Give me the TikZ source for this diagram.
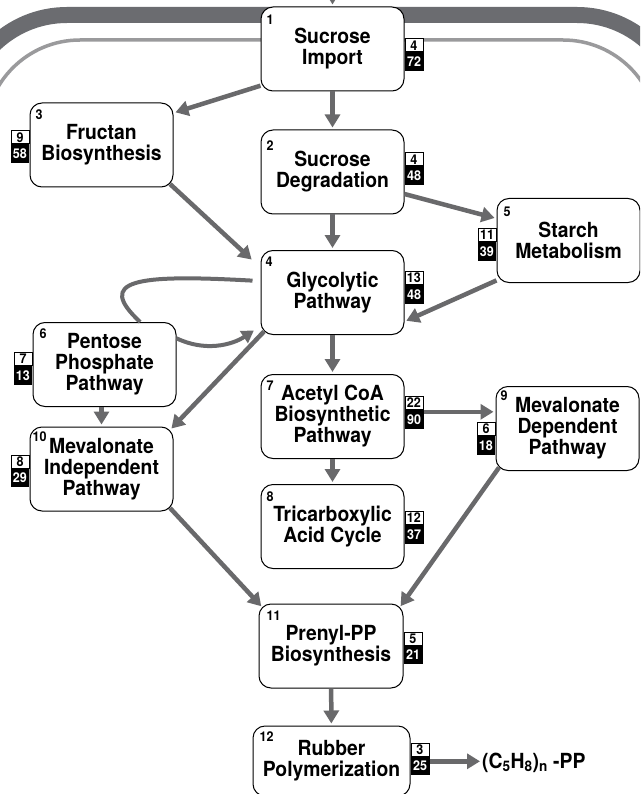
\documentclass[tikz,border=0pt]{standalone}
\usepackage{fontspec}
\setmainfont{TeX Gyre Heros}[FakeStretch=0.93]
\usetikzlibrary{arrows.meta}
\definecolor{bandgray}{HTML}{6B6C70}
\definecolor{linegray}{HTML}{9A9A9C}
\definecolor{flowgray}{HTML}{69696B}

\begin{document}
\begin{tikzpicture}[x=1pt, y=-1pt,
  pbox/.style={draw=black, line width=1pt, fill=white, rounded corners=12pt, minimum width=143pt, minimum height=84pt, inner sep=0pt, align=center, font=\fontsize{20.8}{21}\selectfont\bfseries},
  numlbl/.style={anchor=north west, inner sep=0pt, font=\fontsize{13.5}{13.5}\selectfont\bfseries},
  cntw/.style={draw=black, line width=0.8pt, fill=white, minimum width=18pt, minimum height=13pt, inner sep=0pt, font=\fontsize{13.5}{13.5}\selectfont\bfseries},
  cntb/.style={fill=black, text=white, minimum width=18.8pt, minimum height=18.5pt, inner sep=0pt, font=\fontsize{13.5}{13.5}\selectfont\bfseries},
  flow/.style={line width=4.5pt, draw=flowgray, -{Triangle[length=13pt,width=15pt]}, shorten >=2pt},
  loopline/.style={line width=4pt, draw=flowgray}]

% page and clip
\useasboundingbox (0,0) rectangle (640,794);
\clip (0,0) rectangle (640,794);
\fill[white] (0,0) rectangle (640,794);

% cell membrane
\draw[line width=16pt, draw=bandgray, rounded corners=105pt] (-38,900) -- (-38,15) -- (682,15) -- (682,900);
\draw[line width=3.5pt, draw=linegray, rounded corners=95pt] (-15,900) -- (-15,40) -- (658,40) -- (658,900);

% pathway boxes
\node[pbox] (imp) at (332.5,49) {Sucrose\\Import};
\node[pbox] (deg) at (332.5,172) {Sucrose\\Degradation};
\node[pbox] (fru) at (101.5,145) {Fructan\\Biosynthesis};
\node[pbox] (sta) at (568.5,240.5) {Starch\\Metabolism};
\node[pbox] (gly) at (332.5,292.5) {Glycolytic\\Pathway};
\node[pbox] (pen) at (104.5,364.5) {Pentose\\Phosphate\\Pathway};
\node[pbox] (ace) at (332.5,416.5) {Acetyl CoA\\Biosynthetic\\Pathway};
\node[pbox] (mvd) at (567.5,428.5) {Mevalonate\\Dependent\\Pathway};
\node[pbox] (mvi) at (101.5,469) {Mevalonate\\Independent\\Pathway};
\node[pbox] (tca) at (332.5,526.5) {Tricarboxylic\\Acid Cycle};
\node[pbox, minimum width=144pt] (pre) at (331,646) {Prenyl-PP\\Biosynthesis};
\node[pbox, minimum width=157pt, minimum height=70pt] (rub) at (331.5,761) {Rubber\\Polymerization};

% box numbers
\node[numlbl] (impN) at ([xshift=6pt,yshift=-8pt]imp.north west) {1};
\node[numlbl] (degN) at ([xshift=6pt,yshift=-11pt]deg.north west) {2};
\node[numlbl] (fruN) at ([xshift=6pt,yshift=-7pt]fru.north west) {3};
\node[numlbl] (glyN) at ([xshift=5pt,yshift=-7pt]gly.north west) {4};
\node[numlbl] (staN) at ([xshift=7pt,yshift=-9pt]sta.north west) {5};
\node[numlbl] (penN) at ([xshift=7pt,yshift=-7pt]pen.north west) {6};
\node[numlbl] (aceN) at ([xshift=6pt,yshift=-7pt]ace.north west) {7};
\node[numlbl] (tcaN) at ([xshift=6pt,yshift=-8pt]tca.north west) {8};
\node[numlbl] (mvdN) at ([xshift=5pt,yshift=-5pt]mvd.north west) {9};
\node[numlbl] (mviN) at ([xshift=3pt,yshift=-5pt]mvi.north west) {10};
\node[numlbl] (preN) at ([xshift=8pt,yshift=-7pt]pre.north west) {11};
\node[numlbl] (rubN) at ([xshift=7pt,yshift=-6pt]rub.north west) {12};

% gene counts, right side
\node[cntw, anchor=north west] (impW) at ([yshift=-32pt]imp.north east) {4};
\node[cntb, anchor=north west] (impB) at (impW.south west) {72};
\node[cntw, anchor=north west] (degW) at ([yshift=-23pt]deg.north east) {4};
\node[cntb, anchor=north west] (degB) at (degW.south west) {48};
\node[cntw, anchor=north west] (glyW) at ([yshift=-21pt]gly.north east) {13};
\node[cntb, anchor=north west] (glyB) at (glyW.south west) {48};
\node[cntw, anchor=north west] (aceW) at ([yshift=-22pt]ace.north east) {22};
\node[cntb, anchor=north west] (aceB) at (aceW.south west) {90};
\node[cntw, anchor=north west] (tcaW) at ([yshift=-27pt]tca.north east) {12};
\node[cntb, anchor=north west] (tcaB) at (tcaW.south west) {37};
\node[cntw, anchor=north west] (preW) at ([yshift=-28pt]pre.north east) {5};
\node[cntb, anchor=north west] (preB) at (preW.south west) {21};
\node[cntw, anchor=north west] (rubW) at ([yshift=-17pt]rub.north east) {3};
\node[cntb, anchor=north west] (rubB) at (rubW.south west) {25};

% gene counts, left side
\node[cntw, anchor=north east] (fruW) at ([yshift=-28pt]fru.north west) {9};
\node[cntb, anchor=north east] (fruB) at (fruW.south east) {58};
\node[cntw, anchor=north east] (staW) at ([yshift=-30pt]sta.north west) {11};
\node[cntb, anchor=north east] (staB) at (staW.south east) {39};
\node[cntw, anchor=north east] (penW) at ([yshift=-30pt]pen.north west) {7};
\node[cntb, anchor=north east] (penB) at (penW.south east) {13};
\node[cntw, anchor=north east] (mvdW) at ([yshift=-36pt]mvd.north west) {6};
\node[cntb, anchor=north east] (mvdB) at (mvdW.south east) {18};
\node[cntw, anchor=north east] (mviW) at ([yshift=-28pt]mvi.north west) {8};
\node[cntb, anchor=north east] (mviB) at (mviW.south east) {29};

% product
\node[anchor=base west, inner sep=0pt, font=\fontsize{20.8}{21}\selectfont\bfseries] (prod) at (482,768) {(C\textsubscript{5}H\textsubscript{8})\textsubscript{n} -PP};

% flux arrows
\coordinate (src) at (332.5,-10);
\draw[flow] (src) -- (imp);
\draw[flow] (imp) -- (deg);
\draw[flow] (imp.207) -- (fru.24);
\draw[flow, shorten >=12pt] ([xshift=-3.5pt,yshift=3.5pt]fru.south east) -- (gly.161);
\draw[flow] (deg) -- (gly);
\draw[flow] (deg.-17) -- (sta.163);
\draw[flow] (sta.209) -- (gly.-22);
\draw[flow] (gly) -- (ace);
\draw[flow] ([xshift=3.5pt,yshift=3.5pt]gly.south west) -- ([xshift=-3.5pt,yshift=-3.5pt]mvi.north east);
\draw[flow] (pen.south -| mvi.north) -- (mvi.north);
\draw[flow] ([yshift=-2pt]aceB.north east) -- ([yshift=-2pt]aceB.north east -| mvd.west);
\draw[flow] (ace) -- (tca);
\draw[flow, shorten >=1pt] ([xshift=-3.5pt,yshift=3.5pt]mvi.south east) -- ([xshift=3.5pt,yshift=-3.5pt]pre.north west);
\draw[flow, shorten >=1pt] ([xshift=3.5pt,yshift=3.5pt]mvd.south west) -- ([xshift=-3.5pt,yshift=-3.5pt]pre.north east);
\draw[flow] (pre) -- (rub);
\draw[flow] ([yshift=-5pt]rubB.north east) -- ([yshift=-5pt]rubB.north east -| prod.west);

% pentose loop
\draw[loopline, shorten <=8pt] (gly.171) .. controls (135,274) and (95,280) .. (pen.50);
\draw[loopline, -{Triangle[length=12pt,width=14pt]}, shorten >=8pt] (pen.20) .. controls (205,352) and (232,345) .. (gly.205);
\end{tikzpicture}
\end{document}
